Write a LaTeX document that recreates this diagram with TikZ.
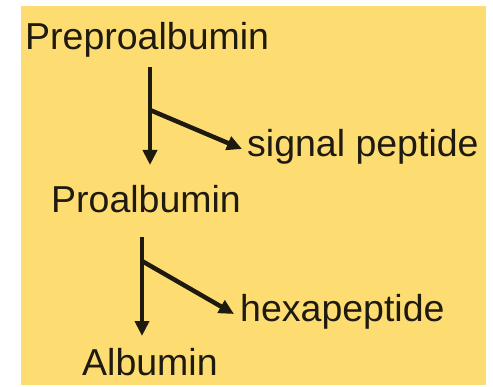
\documentclass[tikz,border=0pt]{standalone}
\usepackage{fontspec}
\setmainfont{Liberation Sans}
\usetikzlibrary{arrows.meta}
\definecolor{bgyellow}{RGB}{253,221,114}
\definecolor{ink}{RGB}{30,26,16}
\begin{document}
\begin{tikzpicture}[x=1pt,y=1pt,
  lbl/.style={anchor=base west,inner sep=0pt,text=ink,font=\fontsize{37.5}{40}\selectfont},
  arr/.style={draw=ink,line width=4.5pt,-{Triangle[length=15pt,width=14pt]}}]
\useasboundingbox (0,0) rectangle (493,386);
\fill[white] (0,0) rectangle (493,386);
\fill[bgyellow] (21,1) rectangle (486,380);
\node[lbl] (pre) at (25,336) {Preproalbumin};
\node[lbl] (sig) at (247,229) {signal peptide};
\node[lbl] (pro) at (51,173) {Proalbumin};
\node[lbl] (hex) at (240,64) {hexapeptide};
\node[lbl] (alb) at (82,11) {Albumin};
\coordinate (s1) at (150,319);
\coordinate (e1) at (150,221);
\coordinate (b1) at (150,276);
\coordinate (t1) at (242,237);
\coordinate (s2) at (142,149);
\coordinate (e2) at (142,50);
\coordinate (b2) at (142,125);
\coordinate (t2) at (234,72);
\draw[arr] (s1) -- (e1);
\draw[arr] (b1) -- (t1);
\draw[arr] (s2) -- (e2);
\draw[arr] (b2) -- (t2);
\end{tikzpicture}
\end{document}
